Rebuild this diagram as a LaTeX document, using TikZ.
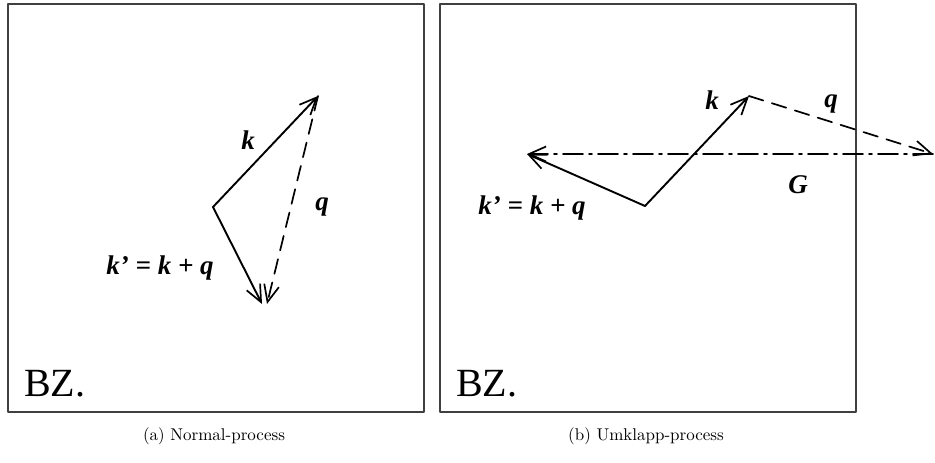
\documentclass[tikz,border=0pt]{standalone}
\usepackage{fontspec}
\newfontfamily\timesfont{Liberation Serif}
\newfontfamily\capfont{lmroman10-regular.otf}
\usetikzlibrary{arrows.meta}

\begin{document}
\begin{tikzpicture}[x=1pt,y=-1pt,>={Straight Barb[length=17pt,width=15pt,line width=1.7pt]},line cap=round,line join=round]
\useasboundingbox (0,0) rectangle (935,463);
% zone boxes
\coordinate (a1) at (8,4);
\coordinate (a2) at (424,412);
\coordinate (b1) at (440,4);
\coordinate (b2) at (856,412);
\draw[line width=1.4pt,black!75] (a1) rectangle (a2);
\draw[line width=1.4pt,black!75] (b1) rectangle (b2);
% (a) normal process
\coordinate (oa) at (213,207);
\coordinate (ka) at (318,96);
\coordinate (kpa) at (262,304);
\coordinate (qa) at (267,304);
\draw[->,line width=1.9pt] (oa) -- (ka);
\draw[->,line width=1.9pt] (oa) -- (kpa);
\draw[->,line width=1.7pt,dash pattern=on 15pt off 9pt] (ka) -- (qa);
% (b) umklapp process
\coordinate (ob) at (645,206);
\coordinate (kb) at (749,96);
\coordinate (qb) at (933,154);
\coordinate (kpb) at (527,154);
\draw[->,line width=1.9pt] (ob) -- (kb);
\draw[->,line width=1.9pt] (ob) -- (kpb);
\draw[->,line width=1.7pt,dash pattern=on 15pt off 9pt] (kb) -- (qb);
\draw[->,line width=1.7pt,dash pattern=on 20pt off 6pt on 3pt off 6pt] (qb) -- (kpb);
% labels
\node[font=\timesfont\bfseries\itshape\fontsize{27}{29}\selectfont] (lka) at (248,140) {k};
\node[font=\timesfont\bfseries\itshape\fontsize{27}{29}\selectfont] (lqa) at (322,207) {q};
\node[font=\timesfont\bfseries\itshape\fontsize{27}{29}\selectfont] (lkpa) at (160,268) {k’ = k + q};
\node[font=\timesfont\bfseries\itshape\fontsize{27}{29}\selectfont] (lkb) at (712,100) {k};
\node[font=\timesfont\bfseries\itshape\fontsize{27}{29}\selectfont] (lqb) at (831,104) {q};
\node[font=\timesfont\bfseries\itshape\fontsize{27}{29}\selectfont] (lG) at (798,185) {G};
\node[font=\timesfont\bfseries\itshape\fontsize{27}{29}\selectfont] (lkpb) at (532,208) {k’ = k + q};
\node[anchor=base west,inner sep=0pt,font=\timesfont\fontsize{40}{42}\selectfont] (bza) at (24,396) {BZ.};
\node[anchor=base west,inner sep=0pt,font=\timesfont\fontsize{40}{42}\selectfont] (bzb) at (456,396) {BZ.};
\node[font=\capfont\fontsize{17}{20}\selectfont] (capa) at (214,436) {(a) Normal-process};
\node[font=\capfont\fontsize{17}{20}\selectfont] (capb) at (646,436) {(b) Umklapp-process};
\end{tikzpicture}
\end{document}
